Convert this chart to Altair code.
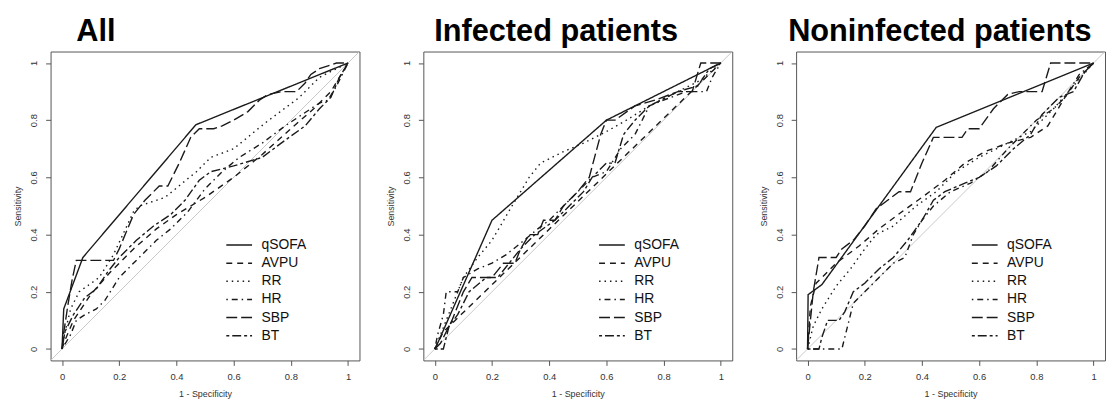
import altair as alt
import pandas as pd

MARKERS = ["qSOFA", "AVPU", "RR", "HR", "SBP", "BT"]
DASHES = [[1, 0], [6, 5], [1.5, 4], [1.5, 4, 6, 4], [11, 4], [3, 3, 9, 3]]
PANEL_TITLES = ["All", "Infected patients", "Noninfected patients"]
TITLE_DX = [26, 11, -8]
TICKS = [0, 0.2, 0.4, 0.6, 0.8, 1]
AXIS_DOMAIN = [-0.04, 1.04]

# ---- All ----
ALL_QSOFA_FPR = [0, 0.006, 0.073, 0.468, 1]
ALL_QSOFA_TPR = [0, 0.14, 0.32, 0.784, 1]
ALL_AVPU_FPR = [0, 0.01, 0.04, 0.1, 0.17, 0.25, 0.33, 0.4, 0.5, 0.6, 0.7, 0.8, 0.88, 0.94, 1]
ALL_AVPU_TPR = [0, 0.03, 0.1, 0.19, 0.27, 0.35, 0.42, 0.47, 0.53, 0.6, 0.68, 0.77, 0.84, 0.9, 1]
ALL_RR_FPR = [0, 0.006, 0.03, 0.06, 0.13, 0.18, 0.25, 0.27, 0.36, 0.47, 0.52, 0.6, 0.71, 0.83, 0.9, 1]
ALL_RR_TPR = [0, 0.04, 0.14, 0.2, 0.25, 0.33, 0.48, 0.5, 0.53, 0.62, 0.67, 0.7, 0.79, 0.88, 0.95, 1]
ALL_HR_FPR = [0, 0.03, 0.05, 0.08, 0.12, 0.15, 0.2, 0.27, 0.33, 0.38, 0.44, 0.5, 0.56, 0.62, 0.7, 0.78, 0.84, 0.9, 0.93, 0.96, 1]
ALL_HR_TPR = [0, 0.05, 0.1, 0.12, 0.14, 0.17, 0.25, 0.32, 0.38, 0.42, 0.48, 0.56, 0.62, 0.67, 0.72, 0.78, 0.82, 0.86, 0.87, 0.92, 1]
ALL_SBP_FPR = [0, 0.005, 0.02, 0.035, 0.05, 0.18, 0.2, 0.25, 0.29, 0.34, 0.37, 0.41, 0.45, 0.48, 0.53, 0.56, 0.6, 0.65, 0.69, 0.72, 0.77, 0.82, 0.85, 0.87, 0.9, 0.93, 0.96, 1]
ALL_SBP_TPR = [0, 0.05, 0.15, 0.24, 0.31, 0.31, 0.35, 0.47, 0.52, 0.57, 0.57, 0.65, 0.74, 0.77, 0.77, 0.78, 0.8, 0.83, 0.87, 0.89, 0.9, 0.9, 0.93, 0.96, 0.98, 0.99, 1.0, 1]
ALL_BT_FPR = [0, 0.01, 0.04, 0.08, 0.12, 0.16, 0.2, 0.26, 0.32, 0.38, 0.43, 0.48, 0.52, 0.56, 0.6, 0.7, 0.78, 0.85, 0.9, 0.94, 0.97, 1]
ALL_BT_TPR = [0, 0.06, 0.12, 0.18, 0.21, 0.27, 0.32, 0.38, 0.43, 0.47, 0.52, 0.59, 0.62, 0.63, 0.64, 0.67, 0.73, 0.78, 0.84, 0.88, 0.95, 1]

# ---- Infected patients ----
INF_QSOFA_FPR = [0, 0.01, 0.2, 0.6, 1]
INF_QSOFA_TPR = [0, 0.02, 0.45, 0.8, 1]
INF_AVPU_FPR = [0, 0.03, 1]
INF_AVPU_TPR = [0, 0.06, 1]
INF_RR_FPR = [0, 0.04, 0.1, 0.15, 0.2, 0.27, 0.33, 0.37, 0.45, 0.52, 0.6, 0.67, 0.75, 0.85, 0.93, 1]
INF_RR_TPR = [0, 0.1, 0.25, 0.32, 0.38, 0.5, 0.6, 0.65, 0.69, 0.72, 0.76, 0.8, 0.85, 0.9, 0.94, 1]
INF_HR_FPR = [0, 0.01, 0.03, 0.04, 0.08, 0.1, 0.15, 0.2, 0.25, 0.3, 0.36, 0.4, 0.45, 0.5, 0.55, 0.6, 0.65, 0.7, 0.75, 0.8, 0.88, 0.95, 0.97, 1]
INF_HR_TPR = [0, 0.05, 0.12, 0.2, 0.2, 0.25, 0.28, 0.3, 0.33, 0.37, 0.42, 0.45, 0.5, 0.55, 0.6, 0.62, 0.7, 0.75, 0.85, 0.87, 0.9, 0.9, 0.95, 1]
INF_SBP_FPR = [0, 0.02, 0.06, 0.1, 0.13, 0.2, 0.24, 0.28, 0.3, 0.33, 0.36, 0.38, 0.42, 0.45, 0.5, 0.54, 0.58, 0.6, 0.63, 0.7, 0.77, 0.85, 0.9, 0.93, 0.97, 1]
INF_SBP_TPR = [0, 0.02, 0.1, 0.2, 0.25, 0.25, 0.3, 0.3, 0.35, 0.4, 0.4, 0.45, 0.45, 0.5, 0.55, 0.6, 0.75, 0.8, 0.8, 0.85, 0.87, 0.9, 0.9, 1, 1, 1]
INF_BT_FPR = [0, 0.03, 0.05, 0.08, 0.12, 0.18, 0.22, 0.26, 0.3, 0.35, 0.42, 0.47, 0.52, 0.55, 0.6, 0.63, 0.66, 0.7, 0.75, 0.85, 0.92, 0.96, 1]
INF_BT_TPR = [0, 0.0, 0.08, 0.12, 0.2, 0.25, 0.25, 0.3, 0.35, 0.4, 0.45, 0.5, 0.55, 0.6, 0.65, 0.65, 0.75, 0.8, 0.85, 0.9, 0.92, 0.98, 1]

# ---- Noninfected patients ----
NON_QSOFA_FPR = [0, 0.002, 0.05, 0.45, 1]
NON_QSOFA_TPR = [0, 0.19, 0.225, 0.775, 1]
NON_AVPU_FPR = [0, 0.01, 0.03, 0.1, 0.18, 0.25, 0.33, 0.4, 0.48, 0.55, 0.62, 0.7, 0.78, 0.84, 0.9, 0.95, 1]
NON_AVPU_TPR = [0, 0.15, 0.23, 0.3, 0.36, 0.42, 0.48, 0.53, 0.59, 0.65, 0.69, 0.72, 0.74, 0.78, 0.88, 0.95, 1]
NON_RR_FPR = [0, 0.02, 0.05, 0.1, 0.15, 0.2, 0.24, 0.3, 0.38, 0.45, 0.52, 0.6, 0.7, 0.78, 0.86, 0.93, 1]
NON_RR_TPR = [0, 0.08, 0.14, 0.22, 0.28, 0.35, 0.4, 0.43, 0.5, 0.55, 0.62, 0.67, 0.72, 0.76, 0.84, 0.92, 1]
NON_HR_FPR = [0, 0.12, 0.14, 0.16, 0.2, 0.25, 0.3, 0.34, 0.37, 0.4, 0.44, 0.5, 0.57, 0.63, 0.7, 0.75, 0.8, 0.86, 0.9, 0.95, 1]
NON_HR_TPR = [0, 0, 0.08, 0.16, 0.2, 0.25, 0.3, 0.32, 0.4, 0.45, 0.5, 0.55, 0.58, 0.62, 0.7, 0.75, 0.8, 0.84, 0.88, 0.96, 1]
NON_SBP_FPR = [0, 0.01, 0.02, 0.04, 0.1, 0.12, 0.16, 0.2, 0.24, 0.28, 0.32, 0.36, 0.4, 0.44, 0.54, 0.56, 0.6, 0.65, 0.7, 0.74, 0.82, 0.85, 0.97, 1]
NON_SBP_TPR = [0, 0.1, 0.2, 0.32, 0.32, 0.35, 0.38, 0.43, 0.49, 0.52, 0.55, 0.55, 0.65, 0.74, 0.74, 0.77, 0.77, 0.84, 0.89, 0.9, 0.9, 1, 1, 1]
NON_BT_FPR = [0, 0.04, 0.05, 0.07, 0.11, 0.13, 0.16, 0.2, 0.25, 0.3, 0.35, 0.4, 0.44, 0.48, 0.55, 0.6, 0.66, 0.72, 0.78, 0.82, 0.88, 0.93, 0.97, 1]
NON_BT_TPR = [0, 0, 0.04, 0.1, 0.1, 0.13, 0.2, 0.23, 0.28, 0.32, 0.38, 0.45, 0.52, 0.55, 0.58, 0.6, 0.64, 0.7, 0.75, 0.82, 0.88, 0.9, 0.97, 1]

PANELS = [
    [(ALL_QSOFA_FPR, ALL_QSOFA_TPR), (ALL_AVPU_FPR, ALL_AVPU_TPR), (ALL_RR_FPR, ALL_RR_TPR),
     (ALL_HR_FPR, ALL_HR_TPR), (ALL_SBP_FPR, ALL_SBP_TPR), (ALL_BT_FPR, ALL_BT_TPR)],
    [(INF_QSOFA_FPR, INF_QSOFA_TPR), (INF_AVPU_FPR, INF_AVPU_TPR), (INF_RR_FPR, INF_RR_TPR),
     (INF_HR_FPR, INF_HR_TPR), (INF_SBP_FPR, INF_SBP_TPR), (INF_BT_FPR, INF_BT_TPR)],
    [(NON_QSOFA_FPR, NON_QSOFA_TPR), (NON_AVPU_FPR, NON_AVPU_TPR), (NON_RR_FPR, NON_RR_TPR),
     (NON_HR_FPR, NON_HR_TPR), (NON_SBP_FPR, NON_SBP_TPR), (NON_BT_FPR, NON_BT_TPR)],
]

FONT = "Liberation Sans"
NBSP = "\u00a0"


def make_panel(title, curves, dx):
    rows = []
    for m, (fx, ty) in zip(MARKERS, curves):
        for i, (a, b) in enumerate(zip(fx, ty)):
            rows.append({"marker": m, "fpr": a, "tpr": b, "idx": i})
    df = pd.DataFrame(rows)
    diag = pd.DataFrame({"fpr": AXIS_DOMAIN, "tpr": AXIS_DOMAIN})

    xs = alt.Scale(domain=AXIS_DOMAIN, nice=False, zero=False)
    ys = alt.Scale(domain=AXIS_DOMAIN, nice=False, zero=False)
    x_axis = alt.Axis(values=TICKS, format="~g", title="1 - Specificity", domain=False, grid=False,
                      tickSize=5, tickColor="#555", labelFontSize=9.5, labelFont=FONT,
                      labelColor="#333", labelPadding=11, labelBaseline="middle",
                      titleFont=FONT, titleFontSize=9, titleFontWeight="normal", titleColor="#333",
                      titleY=33, titleBaseline="middle")
    y_axis = alt.Axis(values=TICKS, format="~g", title="Sensitivity", domain=False, grid=False,
                      tickSize=5, tickColor="#555", labelFontSize=9.5, labelFont=FONT,
                      labelColor="#333", labelAngle=270, labelAlign="center", labelBaseline="middle",
                      labelPadding=12,
                      titleFont=FONT, titleFontSize=9, titleFontWeight="normal", titleColor="#333",
                      titleAngle=270, titleX=-33, titleY=156, titleAlign="center", titleBaseline="middle")

    base_diag = alt.Chart(diag).mark_line(color="#c8c8c8", strokeWidth=1, clip=True).encode(
        x=alt.X("fpr:Q", scale=xs, axis=x_axis),
        y=alt.Y("tpr:Q", scale=ys, axis=y_axis),
    )
    lines = alt.Chart(df).mark_line(color="#1a1a1a", strokeWidth=1.4, clip=True).encode(
        x=alt.X("fpr:Q", scale=xs, axis=x_axis),
        y=alt.Y("tpr:Q", scale=ys, axis=y_axis),
        order="idx:Q",
        strokeDash=alt.StrokeDash(
            "marker:N",
            scale=alt.Scale(domain=MARKERS, range=DASHES),
            legend=alt.Legend(
                title=None, orient="none", legendX=183, legendY=188, padding=0,
                symbolType="M-2,0H2", symbolSize=169, symbolStrokeWidth=1.5,
                labelFontSize=14, labelFont=FONT, labelColor="#111", labelOffset=15,
                rowPadding=3.3,
                labelExpr="datum.label == 'qSOFA' ? datum.label : '" + NBSP + "' + datum.label",
            ),
        ),
    )
    return alt.layer(base_diag, lines).properties(
        width=312, height=312,
        title=alt.TitleParams(text=title, anchor="start", dx=dx, fontSize=31, font=FONT,
                              fontWeight="bold", color="#000", offset=4, frame="group"),
    )


panels = [make_panel(t, c, d) for t, c, d in zip(PANEL_TITLES, PANELS, TITLE_DX)]

chart = alt.hconcat(*panels, spacing=64.5, bounds="flush").resolve_scale(
    strokeDash="independent"
).resolve_legend(strokeDash="independent").properties(
    padding={"left": 5, "top": 5, "right": 0, "bottom": 0}
).configure_view(stroke="#555", strokeWidth=1)

chart.save("out.html", embed_options={"renderer": "svg", "actions": False})
